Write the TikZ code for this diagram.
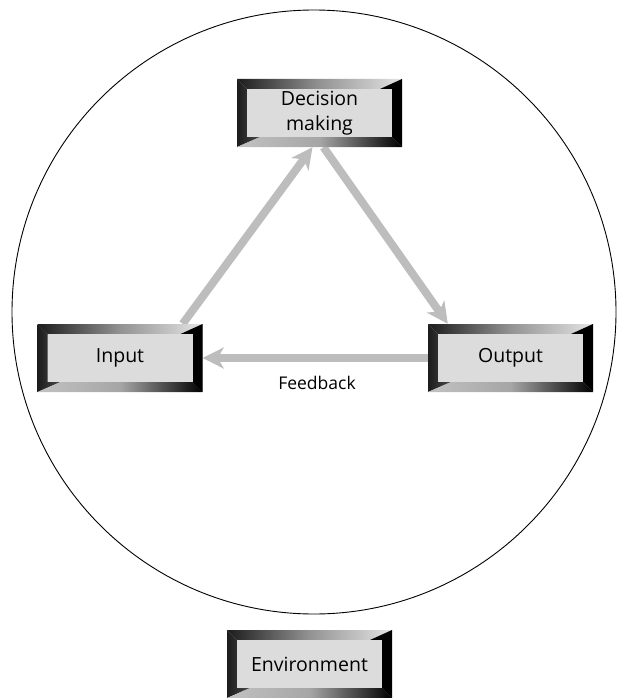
\documentclass[tikz,border=0pt]{standalone}
\usepackage{fontspec}
\setmainfont{Open Sans}
\usetikzlibrary{arrows.meta,calc}

\definecolor{face}{HTML}{DCDCDC}
\definecolor{frameDark}{HTML}{1C1C1C}
\definecolor{frameMid}{HTML}{4A4A4A}
\definecolor{frameLight}{HTML}{E4E4E4}
\definecolor{flow}{HTML}{BDBDBD}

\pgfdeclarelayer{background}
\pgfsetlayers{background,main}

\tikzset{
  x=1pt, y=-1pt,
  % raised box with a bevelled frame
  bevelbox/.style={
    rectangle, minimum width=165pt, minimum height=68pt, inner sep=0pt,
    fill=face, align=center, font=\fontsize{19.5}{25}\selectfont,
    path picture={
      \coordinate (bl) at (path picture bounding box.south west);
      \coordinate (tr) at (path picture bounding box.north east);
      \coordinate (tl) at (bl|-tr);
      \coordinate (br) at (tr|-bl);
      % top edge: dark to light
      \shade[left color=frameDark, right color=frameLight, middle color=gray!85]
        (tl) -- (tr) -- ($(tr)+(-22,10)$) -- ($(tl)+(10,10)$) -- cycle;
      % left edge
      \shade[left color=frameDark, right color=frameMid]
        (tl) -- ($(tl)+(10,10)$) -- ($(bl)+(10,-10)$) -- ($(bl)+(23,-10)$) -- (bl) -- cycle;
      % bottom edge: light to black
      \shade[left color=frameLight!85!black, right color=black, middle color=gray!70]
        (bl) -- ($(bl)+(23,-10)$) -- ($(br)+(-10,-10)$) -- (br) -- cycle;
      % right edge
      \fill[black]
        (tr) -- (br) -- ($(br)+(-10,-10)$) -- ($(tr)+(-10,10)$) -- ($(tr)+(-22,10)$) -- cycle;
      % face
      \fill[face] ($(tl)+(10,10)$) rectangle ($(br)+(-10,-10)$);
    }},
  flowarrow/.style={draw=flow, line width=8pt,
    -{Stealth[length=21pt, width=21pt, inset=6pt]}}
}

\begin{document}
\begin{tikzpicture}
  \useasboundingbox (0,0) rectangle (618,698);

  % system boundary
  \node (sys) [circle, draw, line width=0.9pt, minimum size=604pt, inner sep=0pt] at (314,312) {};

  % boxes
  \node (decision) [bevelbox] at (319.5,113) {Decision\\making};
  \node (input)    [bevelbox] at (120,358)   {Input};
  \node (output)   [bevelbox] at (510.5,358) {Output};
  \node (env)      [bevelbox] at (309.5,664) {Environment};

  % arrow ends on the box borders
  \coordinate (inTop)   at ($(input.north east)+(-20,0)$);
  \coordinate (decInL)  at ($(decision.south)+(-7,0)$);
  \coordinate (decOutR) at ($(decision.south)+(4,0)$);
  \coordinate (outTop)  at ($(output.north west)+(20,0)$);

  % flows, beneath the boxes
  \begin{pgfonlayer}{background}
    \draw[flowarrow] (inTop) -- (decInL);
    \draw[flowarrow] (decOutR) -- (outTop);
    \draw[flowarrow] (output.west) -- (input.east);
  \end{pgfonlayer}

  \node (fb) [font=\fontsize{17.5}{20}\selectfont] at (317,383) {Feedback};
\end{tikzpicture}
\end{document}
